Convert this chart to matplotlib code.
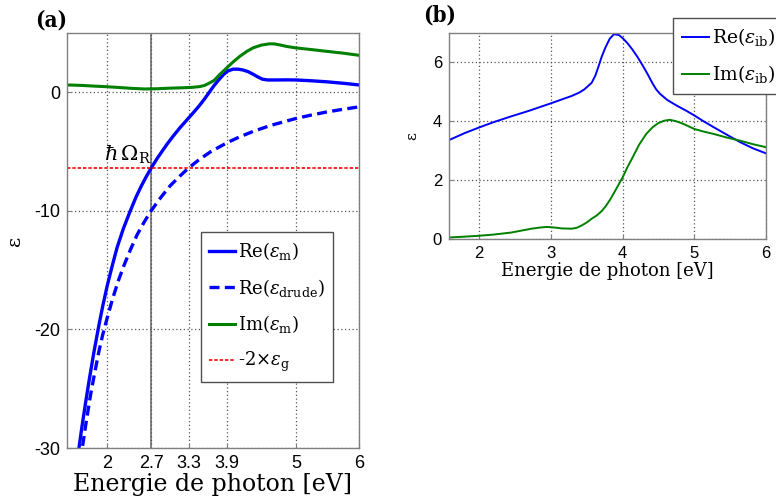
import matplotlib
matplotlib.use('Agg')
import matplotlib.pyplot as plt

plt.rcParams['mathtext.fontset'] = 'dejavuserif'
plt.rcParams['axes.unicode_minus'] = False

# ---- panel (a): permittivite du metal ----
E_re_m = [1.53, 1.55, 1.60, 1.66, 1.72, 1.79, 1.87, 1.93, 2.00, 2.08, 2.16, 2.26,
          2.37, 2.46, 2.55, 2.62, 2.70, 2.80, 2.95, 3.05, 3.16, 3.25, 3.32, 3.40,
          3.47, 3.55, 3.63, 3.70, 3.79, 3.86, 3.92, 4.00, 4.08, 4.16, 4.24, 4.32,
          4.40, 4.47, 4.55, 4.69, 4.85, 5.00, 5.25, 5.50, 5.75, 6.00]
re_m = [-31.0, -30.2, -28.3, -26.2, -24.2, -22.0, -19.7, -18.1, -16.4, -14.7, -13.1, -11.5,
        -10.0, -8.85, -7.85, -7.15, -6.4, -5.55, -4.4, -3.7, -2.98, -2.44, -2.02, -1.54,
        -1.1, -0.55, 0.05, 0.57, 1.15, 1.55, 1.8, 1.95, 1.95, 1.88, 1.74, 1.52,
        1.28, 1.1, 1.04, 1.04, 1.05, 1.04, 0.97, 0.88, 0.76, 0.62]

E_drude = [1.58, 1.60, 1.67, 1.74, 1.80, 1.87, 1.93, 2.00, 2.09, 2.18, 2.27, 2.37,
           2.48, 2.59, 2.70, 2.85, 3.00, 3.15, 3.30, 3.47, 3.65, 3.90, 4.10, 4.32,
           4.60, 4.99, 5.25, 5.48, 5.75, 6.00]
re_drude = [-31.1, -30.3, -27.8, -25.5, -23.8, -21.9, -20.5, -19.1, -17.4, -15.9, -14.6, -13.3,
            -12.0, -10.95, -10.0, -8.9, -7.9, -7.1, -6.36, -5.65, -5.0, -4.27, -3.77, -3.3,
            -2.79, -2.22, -1.91, -1.67, -1.43, -1.23]

E_im_m = [1.365, 1.6, 1.8, 2.0, 2.2, 2.4, 2.6, 2.8, 3.0, 3.2, 3.36, 3.47, 3.55, 3.63,
          3.70, 3.79, 3.90, 4.00, 4.11, 4.22, 4.32, 4.45, 4.58, 4.66, 4.74, 4.85,
          4.99, 5.25, 5.48, 5.75, 6.0]
im_m = [0.62, 0.58, 0.52, 0.47, 0.40, 0.33, 0.28, 0.30, 0.35, 0.38, 0.42, 0.48, 0.58, 0.79,
        1.0, 1.5, 2.05, 2.55, 3.04, 3.45, 3.75, 3.98, 4.09, 4.08, 4.0, 3.87,
        3.75, 3.6, 3.46, 3.3, 3.12]

eps_g2 = -6.36
E_R = 2.7
ticks_a = [2, 2.7, 3.3, 3.9, 5, 6]
tick_labels_a = ['2', '2.7', '3.3', '3.9', '5', '6']

# ---- panel (b): contribution interbande ----
E_ib_re = [1.57, 1.8, 2.0, 2.2, 2.45, 2.7, 3.0, 3.15, 3.29, 3.4, 3.47, 3.57, 3.62, 3.66,
           3.71, 3.76, 3.82, 3.88, 3.95, 4.0, 4.07, 4.14, 4.21, 4.28, 4.35, 4.42,
           4.47, 4.52, 4.62, 4.75, 4.88, 5.0, 5.13, 5.27, 5.45, 5.64, 5.82, 6.0]
re_ib = [3.35, 3.6, 3.79, 3.97, 4.17, 4.36, 4.61, 4.74, 4.86, 4.98, 5.09, 5.31, 5.55, 5.83,
         6.2, 6.5, 6.8, 6.96, 6.93, 6.83, 6.65, 6.43, 6.18, 5.9, 5.6, 5.28,
         5.08, 4.94, 4.73, 4.54, 4.37, 4.2, 4.0, 3.8, 3.55, 3.29, 3.08, 2.91]

E_ib_im = [1.57, 1.8, 2.0, 2.2, 2.45, 2.6, 2.73, 2.85, 2.95, 3.05, 3.15, 3.29, 3.36, 3.43,
           3.5, 3.57, 3.64, 3.71, 3.77, 3.83, 3.9, 4.0, 4.07, 4.14, 4.23, 4.33, 4.42,
           4.5, 4.58, 4.66, 4.75, 4.84, 5.0, 5.13, 5.27, 5.45, 5.64, 5.82, 6.0]
im_ib = [0.05, 0.08, 0.11, 0.15, 0.22, 0.29, 0.35, 0.39, 0.41, 0.39, 0.36, 0.35, 0.38, 0.46,
         0.56, 0.69, 0.8, 0.95, 1.13, 1.35, 1.65, 2.09, 2.45, 2.77, 3.2, 3.57, 3.8,
         3.94, 4.02, 4.05, 4.0, 3.92, 3.74, 3.65, 3.57, 3.45, 3.34, 3.22, 3.12]

BLUE = '#0000ff'
GREEN = '#008000'
RED = '#ff0000'
SERIF = 'DejaVu Serif'
SANS = 'Liberation Sans'

fig = plt.figure(figsize=(7.76, 5.04), dpi=100)
ax1 = fig.add_axes([0.0863, 0.1111, 0.3763, 0.8234])
ax2 = fig.add_axes([0.5786, 0.5258, 0.4085, 0.4087])


def style_axes(ax, fs):
    for s in ax.spines.values():
        s.set_color('#808080')
        s.set_linewidth(1.0)
    ax.tick_params(direction='in', length=3, color='#808080', labelsize=fs,
                   pad=5, top=False, right=False)
    for lab in ax.get_xticklabels() + ax.get_yticklabels():
        lab.set_fontfamily(SANS)
    ax.grid(True, color='#555555', linestyle=(0, (1, 2)), linewidth=0.9)


# (a)
ax1.plot(E_re_m, re_m, color=BLUE, lw=2.4, label=r'Re($\varepsilon_{\rm m}$)')
ax1.plot(E_drude, re_drude, color=BLUE, lw=2.4, ls=(0, (3, 1.6)),
         label=r'Re($\varepsilon_{\rm drude}$)')
ax1.plot(E_im_m, im_m, color=GREEN, lw=2.2, label=r'Im($\varepsilon_{\rm m}$)')
ax1.axhline(eps_g2, color=RED, lw=1.2, ls=(0, (2, 1.2)),
            label=r'-2$\times\varepsilon_{\rm g}$')
ax1.axvline(E_R, color='#707070', lw=1.2, zorder=1)
ax1.set_xlim(1.365, 6)
ax1.set_ylim(-30, 5)
ax1.set_xticks(ticks_a)
ax1.set_xticklabels(tick_labels_a)
ax1.set_yticks([-30, -20, -10, 0])
style_axes(ax1, 13)
ax1.set_xlabel('Energie de photon [eV]', fontsize=17, family=SERIF, labelpad=1)
ax1.set_ylabel('ε', fontsize=14, family=SERIF, labelpad=7)
ax1.text(2.7, eps_g2 + 0.15, r'$\hbar\,\Omega_{\rm R}$', fontsize=15,
         ha='right', va='bottom')
leg1 = ax1.legend(loc='upper left', bbox_to_anchor=(0.459, 0.52),
                  prop={'family': SERIF, 'size': 13}, handlelength=1.45,
                  handletextpad=0.15, labelspacing=0.8, borderpad=0.45,
                  borderaxespad=0, fancybox=False, framealpha=1,
                  edgecolor='#505050')
leg1.get_frame().set_linewidth(1.0)
fig.text(0.066, 0.96, '(a)', fontsize=16, fontweight='bold', family=SERIF,
         fontstretch='condensed', ha='center', va='center')

# (b)
ax2.plot(E_ib_re, re_ib, color=BLUE, lw=1.4, label=r'Re($\varepsilon_{\rm ib}$)')
ax2.plot(E_ib_im, im_ib, color=GREEN, lw=1.4, label=r'Im($\varepsilon_{\rm ib}$)')
ax2.set_xlim(1.58, 6)
ax2.set_ylim(0, 7)
ax2.set_xticks([2, 3, 4, 5, 6])
ax2.set_yticks([0, 2, 4, 6])
style_axes(ax2, 12)
ax2.set_xlabel('Energie de photon [eV]', fontsize=13, family=SERIF, labelpad=1)
ax2.set_ylabel('ε', fontsize=11, family=SERIF, labelpad=10)
leg2 = ax2.legend(loc='upper left', bbox_to_anchor=(0.707, 1.073),
                  prop={'family': SERIF, 'size': 13.5}, handlelength=1.45,
                  handletextpad=0.15, labelspacing=0.8, borderpad=0.45,
                  borderaxespad=0, fancybox=False, framealpha=1,
                  edgecolor='#505050')
leg2.get_frame().set_linewidth(1.0)
fig.text(0.567, 0.97, '(b)', fontsize=16, fontweight='bold', family=SERIF,
         fontstretch='condensed', ha='center', va='center')

fig.savefig('out.png', dpi=100)
